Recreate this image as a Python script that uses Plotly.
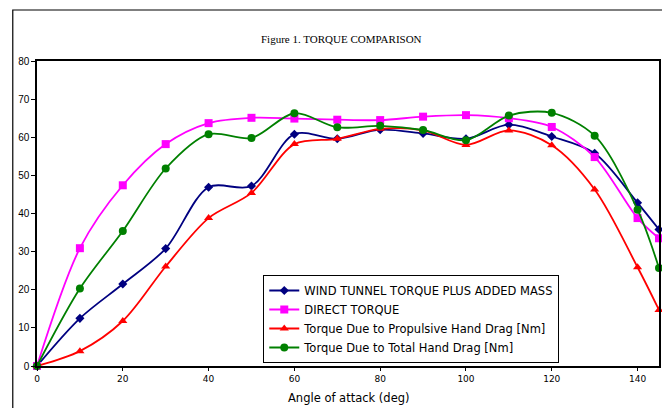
import plotly.graph_objects as go

angle = [0, 10, 20, 30, 40, 50, 60, 70, 80, 90, 100, 110, 120, 130, 140, 145]
wind_tunnel = [0, 12.5, 21.5, 30.8, 46.9, 47.2, 60.8, 59.6, 62.0, 61.0, 59.6, 63.3, 60.2, 55.8, 42.8, 35.8]
direct = [0, 30.9, 47.4, 58.2, 63.7, 65.1, 64.9, 64.6, 64.5, 65.4, 65.8, 65.0, 62.7, 54.8, 38.8, 33.5]
propulsive = [0, 3.9, 11.8, 26.1, 38.8, 45.4, 58.2, 59.6, 62.2, 61.8, 58.0, 61.8, 57.9, 46.3, 25.9, 14.7]
total = [0, 20.3, 35.4, 51.8, 60.8, 59.8, 66.3, 62.6, 63.0, 61.9, 59.2, 65.7, 66.4, 60.4, 41.0, 25.7]

names = ["WIND TUNNEL TORQUE PLUS ADDED MASS", "DIRECT TORQUE",
         "Torque Due to Propulsive Hand Drag [Nm]", "Torque Due to Total Hand Drag [Nm]"]
colors = ["#000080", "#FF00FF", "#FF0000", "#008000"]
symbols = ["diamond", "square", "triangle-up", "circle"]
sizes = [7, 8, 8, 8]
series = [wind_tunnel, direct, propulsive, total]

fig = go.Figure()
for nm, ys, c, s, sz in zip(names, series, colors, symbols, sizes):
    fig.add_trace(go.Scatter(
        x=angle, y=ys, name=nm, mode="lines+markers",
        line=dict(color=c, width=1.8, shape="spline", smoothing=0.9),
        marker=dict(color=c, symbol=s, size=sz),
        cliponaxis=False,
    ))

W, H = 662, 408
L, R, T, B = 37, 1, 61, 42
pw = W - L - R
ph = H - T - B

fig.update_layout(
    width=W, height=H,
    margin=dict(l=L, r=R, t=T, b=B, pad=0),
    paper_bgcolor="white", plot_bgcolor="white",
    showlegend=True,
    legend=dict(
        x=(264 - L) / pw, y=(H - B - 275) / ph, xanchor="left", yanchor="top",
        bgcolor="white", bordercolor="black", borderwidth=1,
        font=dict(family="DejaVu Sans", size=11.5, color="black"),
        tracegroupgap=0, itemwidth=30,
    ),
    xaxis=dict(
        range=[0, 145], tickvals=[0, 20, 40, 60, 80, 100, 120, 140],
        showgrid=False, zeroline=False, showline=True, linecolor="black",
        linewidth=1.5, mirror=True, ticks="outside", ticklen=3, tickcolor="black",
        tickfont=dict(family="DejaVu Sans", size=9, color="black"),
    ),
    yaxis=dict(
        range=[0, 80], dtick=10,
        showgrid=False, zeroline=False, showline=True, linecolor="black",
        linewidth=1.5, mirror=True, ticks="outside", ticklen=4, tickcolor="black",
        tickfont=dict(family="Liberation Sans Narrow, Liberation Sans", size=10, color="black"),
    ),
    shapes=[dict(
        type="rect", xref="paper", yref="paper",
        x0=(12.7 - L) / pw, x1=1.2, y0=-0.5, y1=(H - B - 10) / ph,
        line=dict(color="black", width=1.2), fillcolor="rgba(0,0,0,0)", layer="below",
    )],
    annotations=[
        dict(text="Figure 1. TORQUE COMPARISON", xref="paper", yref="paper",
             x=(342 - L) / pw, y=(H - B - 39) / ph, xanchor="center", yanchor="middle",
             showarrow=False, font=dict(family="Liberation Serif", size=11, color="black")),
        dict(text="Angle of attack (deg)", xref="paper", yref="paper",
             x=(350 - L) / pw, y=(H - B - 398) / ph, xanchor="center", yanchor="middle",
             showarrow=False, font=dict(family="DejaVu Sans", size=11.5, color="black")),
    ],
)

fig.write_html("out.html")
